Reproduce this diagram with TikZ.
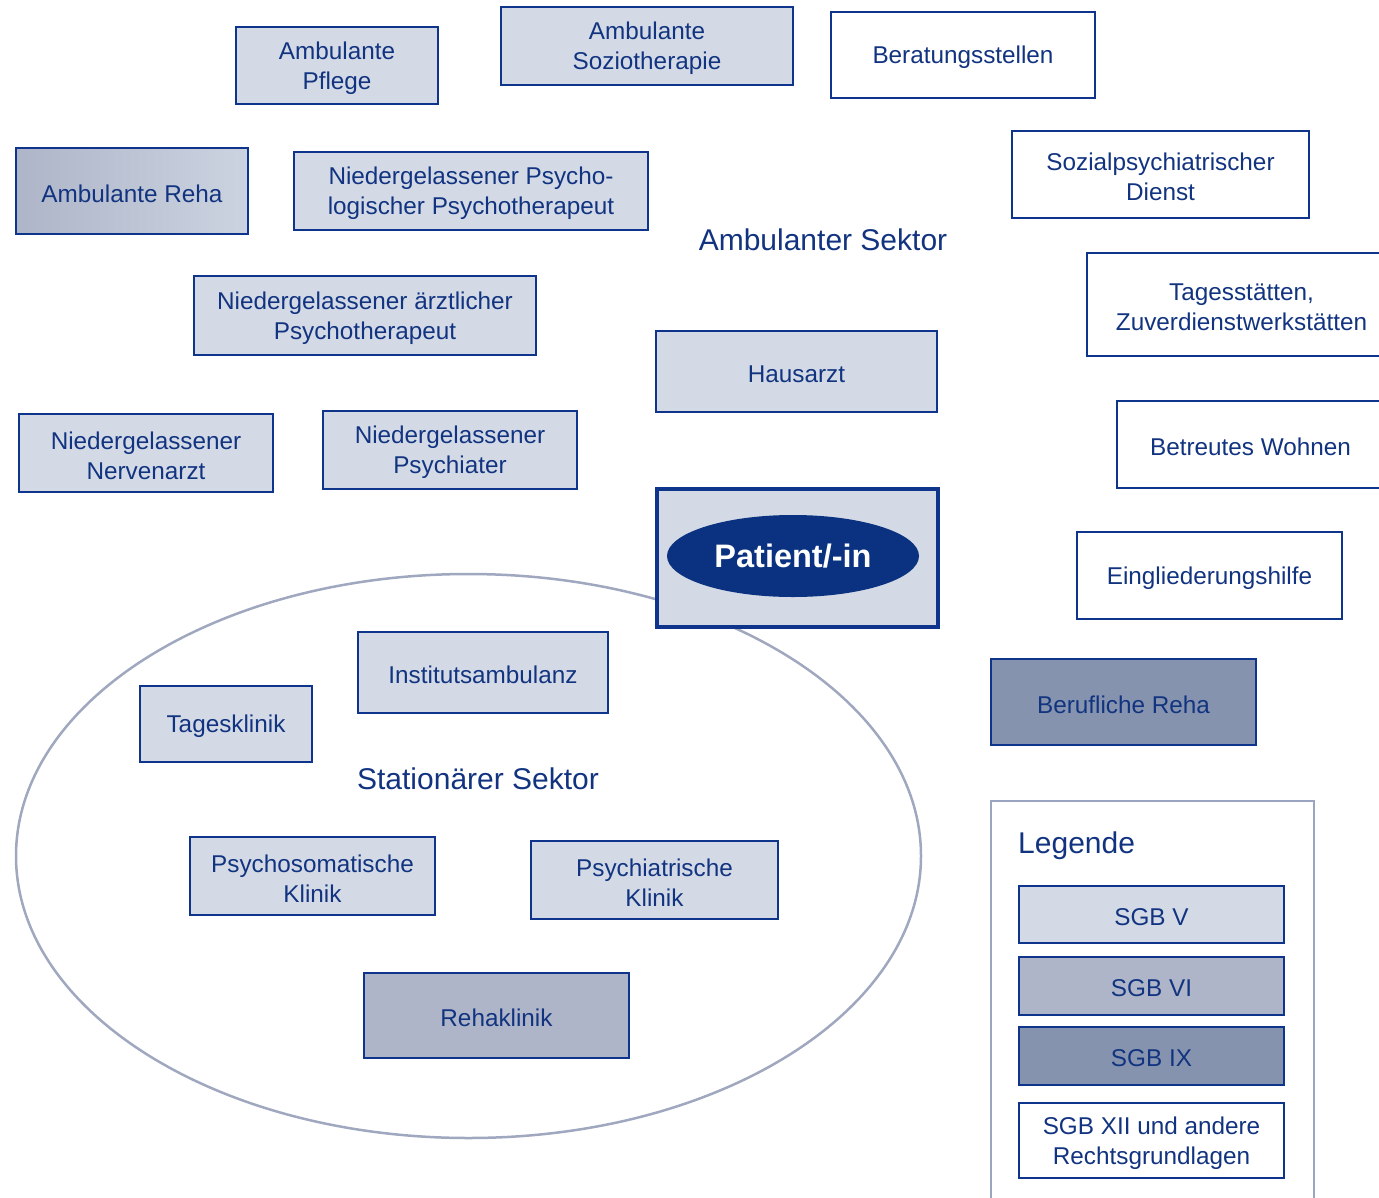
\documentclass[tikz,border=0pt]{standalone}
\usepackage{fontspec}
\setmainfont{Liberation Sans}
\usetikzlibrary{shapes.geometric}
\definecolor{txt}{RGB}{18,52,128}
\definecolor{bord}{RGB}{14,52,140}
\definecolor{sgbv}{RGB}{211,218,230}
\definecolor{sgbvi}{RGB}{174,181,200}
\definecolor{sgbix}{RGB}{133,147,174}
\definecolor{ringc}{RGB}{160,168,192}
\definecolor{legc}{RGB}{154,165,192}
\definecolor{patc}{RGB}{10,50,128}
\tikzset{
  box/.style={draw=bord, line width=2.5pt, inner sep=0pt},
  lbl/.style={text=txt, align=center, font=\fontsize{24.3}{30}\selectfont, inner sep=0pt, yshift=-2.5pt},
  fv/.style={box, fill=sgbv},
  fvi/.style={box, fill=sgbvi},
  fix/.style={box, fill=sgbix},
  fw/.style={box, fill=white},
  sektor/.style={text=txt, font=\fontsize{30}{34}\selectfont, inner sep=0pt},
}
\newcommand{\bx}[7]{% style, name, x1, y1, x2, y2, text
  \node[#1, minimum width={(#5-#3)*1pt}, minimum height={(#6-#4)*1pt}]
    (#2) at ({(#3+#5)/2},{(#4+#6)/2}) {};
  \node[lbl] (#2-t) at (#2.center) {#7};}
\begin{document}
\begin{tikzpicture}[x=1pt,y=-1pt]
\useasboundingbox (0,0) rectangle (1379,1197);
\begin{scope}
\clip (0,0) rectangle (1379,1197);
% stationary sector ring
\draw[ringc, line width=2.5pt] (468.5,856) ellipse [x radius=452.5, y radius=282];
% ambulant
\bx{fv}{pflege}{236}{27}{438}{104}{Ambulante\\Pflege}
\bx{fv}{sozio}{501}{7}{793}{85}{Ambulante\\Soziotherapie}
\bx{fw}{berat}{831}{12}{1095}{98}{Beratungsstellen}
\node[box, left color=sgbvi, right color=sgbv!80!sgbvi, minimum width=232pt, minimum height=86pt]
  (ambreha) at (132,191) {};
\node[lbl] (ambreha-t) at (ambreha.center) {Ambulante Reha};
\bx{fv}{psychlog}{294}{152}{648}{230}{Niedergelassener Psycho-\\logischer Psychotherapeut}
\bx{fw}{spd}{1012}{131}{1309}{218}{Sozialpsychiatrischer\\Dienst}
\node[sektor] (amb) at (823,240) {Ambulanter Sektor};
\bx{fw}{tages}{1087}{253}{1396}{356}{Tagesstätten,\\Zuverdienstwerkstätten}
\bx{fv}{aerztl}{194}{276}{536}{355}{Niedergelassener ärztlicher\\Psychotherapeut}
\bx{fv}{hausarzt}{656}{331}{937}{412}{Hausarzt}
\bx{fw}{wohnen}{1117}{401}{1384}{488}{Betreutes Wohnen}
\bx{fv}{nerven}{19}{414}{273}{492}{Niedergelassener\\Nervenarzt}
\bx{fv}{psychiater}{323}{411}{577}{489}{Niedergelassener\\Psychiater}
% patient
\node[fv, line width=3.5pt, minimum width=281pt, minimum height=138pt] (patbox) at (797.5,558) {};
\node[ellipse, fill=patc, minimum width=252pt, minimum height=82pt, inner sep=0pt,
  text=white, font=\bfseries\fontsize{32.5}{36}\selectfont] (patient) at (793,556) {Patient/-in};
\bx{fw}{eingl}{1077}{532}{1342}{619}{Eingliederungshilfe}
\bx{fix}{beruf}{991}{659}{1256}{745}{Berufliche Reha}
% stationary
\bx{fv}{institut}{358}{632}{608}{713}{Institutsambulanz}
\bx{fv}{tagesklinik}{140}{686}{312}{762}{Tagesklinik}
\node[sektor] (stat) at (478,779) {Stationärer Sektor};
\bx{fv}{psychosom}{190}{837}{435}{915}{Psychosomatische\\Klinik}
\bx{fv}{psychiatr}{531}{841}{778}{919}{Psychiatrische\\Klinik}
\bx{fvi}{reha}{364}{973}{629}{1058}{Rehaklinik}
% legend
\draw[legc, line width=2.5pt] (991,1210) -- (991,801) -- (1314,801) -- (1314,1210);
\node[sektor, anchor=west] (leg) at (1018,846) {Legende};
\bx{fv}{l5}{1019}{886}{1284}{943}{SGB V}
\bx{fvi}{l6}{1019}{957}{1284}{1015}{SGB VI}
\bx{fix}{l9}{1019}{1027}{1284}{1085}{SGB IX}
\bx{fw}{l12}{1019}{1103}{1284}{1178}{SGB XII und andere\\Rechtsgrundlagen}
\end{scope}
\end{tikzpicture}
\end{document}
